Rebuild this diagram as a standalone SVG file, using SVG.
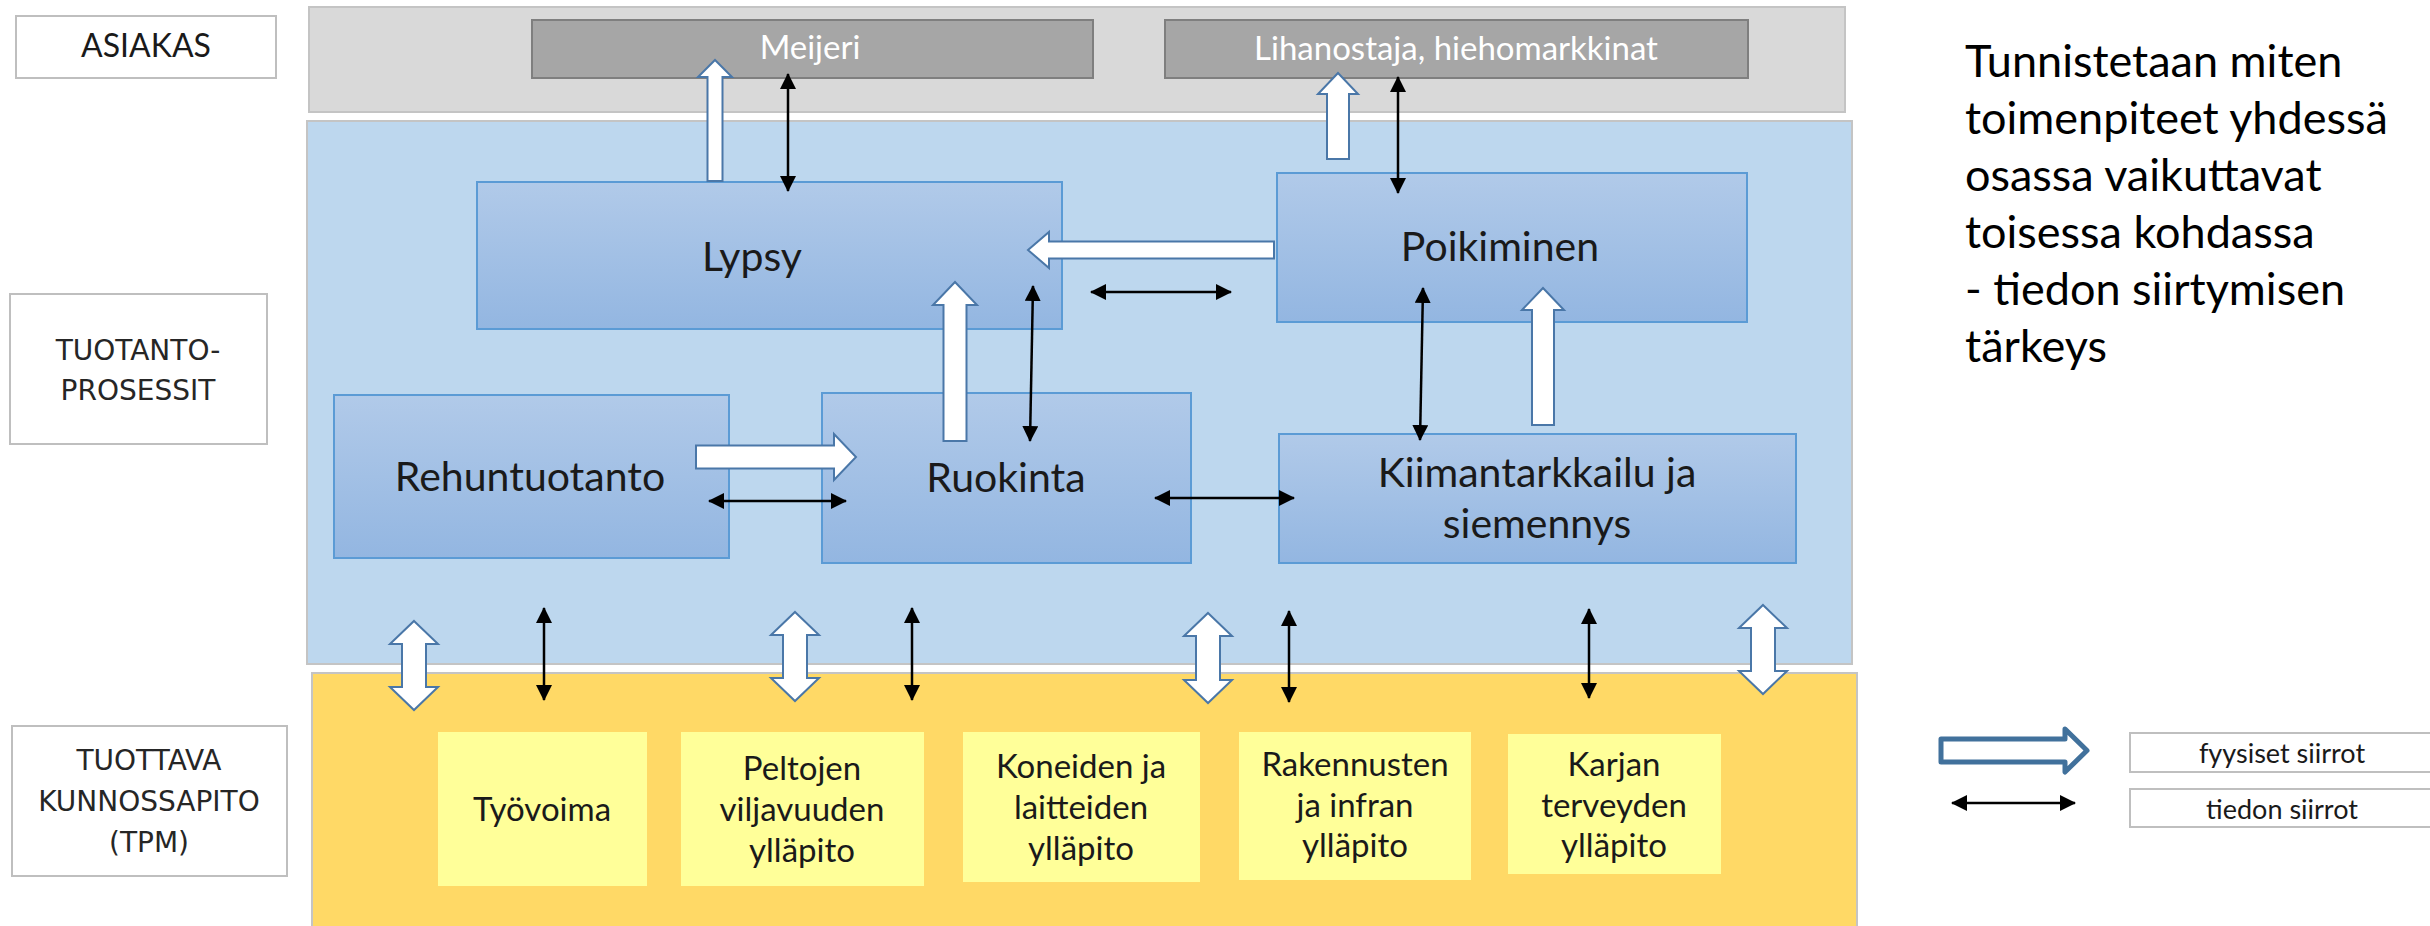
<svg xmlns="http://www.w3.org/2000/svg" width="2430" height="926" viewBox="0 0 2430 926">
<defs>
<linearGradient id="nodeGrad" x1="0" y1="0" x2="0" y2="1">
<stop offset="0" stop-color="#B1CAE9"/>
<stop offset="1" stop-color="#93B6E1"/>
</linearGradient>
<marker id="ah" viewBox="0 0 16 16" refX="15" refY="8" markerWidth="16" markerHeight="16" markerUnits="userSpaceOnUse" orient="auto-start-reverse">
<path d="M0,0 L16,8 L0,16 Z" fill="#000"/>
</marker>
</defs>
<style>
.lbl{fill:#fff;stroke:#BFBFBF;stroke-width:2}
.lbltxt{font-family:"DejaVu Sans",Verdana,sans-serif;font-size:28px;fill:#262626;text-anchor:middle}
.cal{font-family:Lato,"Noto Sans",sans-serif;text-anchor:middle;fill:#1a1a1a}
.node{fill:url(#nodeGrad);stroke:#5B9BD5;stroke-width:2}
.cust{fill:#A6A6A6;stroke:#7F7F7F;stroke-width:2}
.tpm{fill:#FFFF99}
.blk{fill:#fff;stroke:#4A77A8;stroke-width:2;stroke-linejoin:miter}
.info{stroke:#000;stroke-width:2.5;fill:none;marker-start:url(#ah);marker-end:url(#ah)}
</style>
<rect width="2430" height="926" fill="#fff"/>

<g id="labels">
<g id="lbl-asiakas"><rect class="lbl" x="16" y="16" width="260" height="62"/><text class="cal" x="146" y="57" font-size="32">ASIAKAS</text></g>
<g id="lbl-tuotanto"><rect class="lbl" x="10" y="294" width="257" height="150"/><text class="lbltxt" x="138" y="360">TUOTANTO-</text><text class="lbltxt" x="138" y="400">PROSESSIT</text></g>
<g id="lbl-tpm"><rect class="lbl" x="12" y="726" width="275" height="150"/><text class="lbltxt" x="149" y="770">TUOTTAVA</text><text class="lbltxt" x="149" y="811">KUNNOSSAPITO</text><text class="lbltxt" x="149" y="852">(TPM)</text></g>
</g>

<g id="bands">
<rect id="band-asiakas" x="309" y="7" width="1536" height="105" fill="#D9D9D9" stroke="#C4C4C4" stroke-width="2"/>
<rect id="band-tuotanto" x="307" y="121" width="1545" height="543" fill="#BDD7EE" stroke="#C4C4C4" stroke-width="2"/>
<rect id="band-tpm" x="312" y="673" width="1545" height="260" fill="#FFD966" stroke="#C4C4C4" stroke-width="2"/>
</g>

<g id="meijeri"><rect class="cust" x="532" y="20" width="561" height="58"/><text class="cal" x="810" y="59" font-size="33" style="fill:#fff">Meijeri</text></g>
<g id="lihanostaja"><rect class="cust" x="1165" y="20" width="583" height="58"/><text class="cal" x="1456" y="60" font-size="33" style="fill:#fff">Lihanostaja, hiehomarkkinat</text></g>

<g id="lypsy"><rect class="node" x="477" y="182" width="585" height="147"/><text class="cal" x="752" y="271" font-size="41">Lypsy</text></g>
<g id="poikiminen"><rect class="node" x="1277" y="173" width="470" height="149"/><text class="cal" x="1500" y="261" font-size="41">Poikiminen</text></g>
<g id="rehuntuotanto"><rect class="node" x="334" y="395" width="395" height="163"/><text class="cal" x="530" y="491" font-size="41">Rehuntuotanto</text></g>
<g id="ruokinta"><rect class="node" x="822" y="393" width="369" height="170"/><text class="cal" x="1006" y="492" font-size="41">Ruokinta</text></g>
<g id="kiimantarkkailu"><rect class="node" x="1279" y="434" width="517" height="129"/><text class="cal" x="1537" y="487" font-size="41">Kiimantarkkailu ja</text><text class="cal" x="1537" y="538" font-size="41">siemennys</text></g>

<g id="tyovoima"><rect class="tpm" x="438" y="732" width="209" height="154"/><text class="cal" x="542" y="821" font-size="33">Työvoima</text></g>
<g id="peltojen"><rect class="tpm" x="681" y="732" width="243" height="154"/><text class="cal" x="802" y="780" font-size="33">Peltojen</text><text class="cal" x="802" y="821" font-size="33">viljavuuden</text><text class="cal" x="802" y="862" font-size="33">ylläpito</text></g>
<g id="koneiden"><rect class="tpm" x="963" y="732" width="237" height="150"/><text class="cal" x="1081" y="778" font-size="33">Koneiden ja</text><text class="cal" x="1081" y="819" font-size="33">laitteiden</text><text class="cal" x="1081" y="860" font-size="33">ylläpito</text></g>
<g id="rakennusten"><rect class="tpm" x="1239" y="732" width="232" height="148"/><text class="cal" x="1355" y="776" font-size="33">Rakennusten</text><text class="cal" x="1355" y="817" font-size="33">ja infran</text><text class="cal" x="1355" y="857" font-size="33">ylläpito</text></g>
<g id="karjan"><rect class="tpm" x="1508" y="734" width="213" height="140"/><text class="cal" x="1614" y="776" font-size="33">Karjan</text><text class="cal" x="1614" y="817" font-size="33">terveyden</text><text class="cal" x="1614" y="857" font-size="33">ylläpito</text></g>

<g id="connectors">
<path class="blk" d="M707.5,181 L707.5,77 L698,77 L715,60 L732,77 L722.5,77 L722.5,181 Z"/>
<path class="blk" d="M1327,159 L1327,94 L1318,94 L1338,73 L1358,94 L1349,94 L1349,159 Z"/>
<path class="blk" d="M1274,241.5 L1049,241.5 L1049,232 L1028,250 L1049,268 L1049,258.5 L1274,258.5 Z"/>
<path class="blk" d="M943.5,441 L943.5,305 L933,305 L955,282 L977,305 L966.5,305 L966.5,441 Z"/>
<path class="blk" d="M1532,425 L1532,310 L1522,310 L1543,288 L1564,310 L1554,310 L1554,425 Z"/>
<path class="blk" d="M696,445.5 L834,445.5 L834,434 L856,457 L834,480 L834,468.5 L696,468.5 Z"/>
<path class="blk" d="M414,621 L438,644 L426,644 L426,687 L438,687 L414,710 L390,687 L402,687 L402,644 L390,644 Z"/>
<path class="blk" d="M795,612 L819,635 L807,635 L807,678 L819,678 L795,701 L771,678 L783,678 L783,635 L771,635 Z"/>
<path class="blk" d="M1208,613 L1232,636 L1220,636 L1220,680 L1232,680 L1208,703 L1184,680 L1196,680 L1196,636 L1184,636 Z"/>
<path class="blk" d="M1763,605 L1787,628 L1775,628 L1775,671 L1787,671 L1763,694 L1739,671 L1751,671 L1751,628 L1739,628 Z"/>
<line class="info" x1="788" y1="74" x2="788" y2="191"/>
<line class="info" x1="1398" y1="77" x2="1398" y2="193"/>
<line class="info" x1="1091" y1="292" x2="1231" y2="292"/>
<line class="info" x1="1033" y1="286" x2="1030" y2="441"/>
<line class="info" x1="1423" y1="288" x2="1420" y2="440"/>
<line class="info" x1="709" y1="501" x2="846" y2="501"/>
<line class="info" x1="1155" y1="498" x2="1294" y2="498"/>
<line class="info" x1="544" y1="608" x2="544" y2="700"/>
<line class="info" x1="912" y1="608" x2="912" y2="700"/>
<line class="info" x1="1289" y1="611" x2="1289" y2="702"/>
<line class="info" x1="1589" y1="609" x2="1589" y2="698"/>
</g>

<g id="note">
<text font-family="Lato,'Noto Sans',sans-serif" font-size="45" fill="#000">
<tspan x="1965" y="77">Tunnistetaan miten</tspan>
<tspan x="1965" y="134">toimenpiteet yhdessä</tspan>
<tspan x="1965" y="191">osassa vaikuttavat</tspan>
<tspan x="1965" y="248">toisessa kohdassa</tspan>
<tspan x="1965" y="305">- tiedon siirtymisen</tspan>
<tspan x="1965" y="362">tärkeys</tspan>
</text>
</g>

<g id="legend">
<path d="M1941,739 L2065,739 L2065,729 L2087,750.5 L2065,772 L2065,762 L1941,762 Z" fill="#fff" stroke="#41719C" stroke-width="5" stroke-linejoin="round"/>
<line class="info" x1="1952" y1="803" x2="2075" y2="803"/>
<g id="legend-fyysiset"><rect class="lbl" x="2130" y="733" width="310" height="39"/><text class="cal" x="2282" y="763" font-size="27">fyysiset siirrot</text></g>
<g id="legend-tiedon"><rect class="lbl" x="2130" y="789" width="310" height="38"/><text class="cal" x="2282" y="819" font-size="27">tiedon siirrot</text></g>
</g>
</svg>
